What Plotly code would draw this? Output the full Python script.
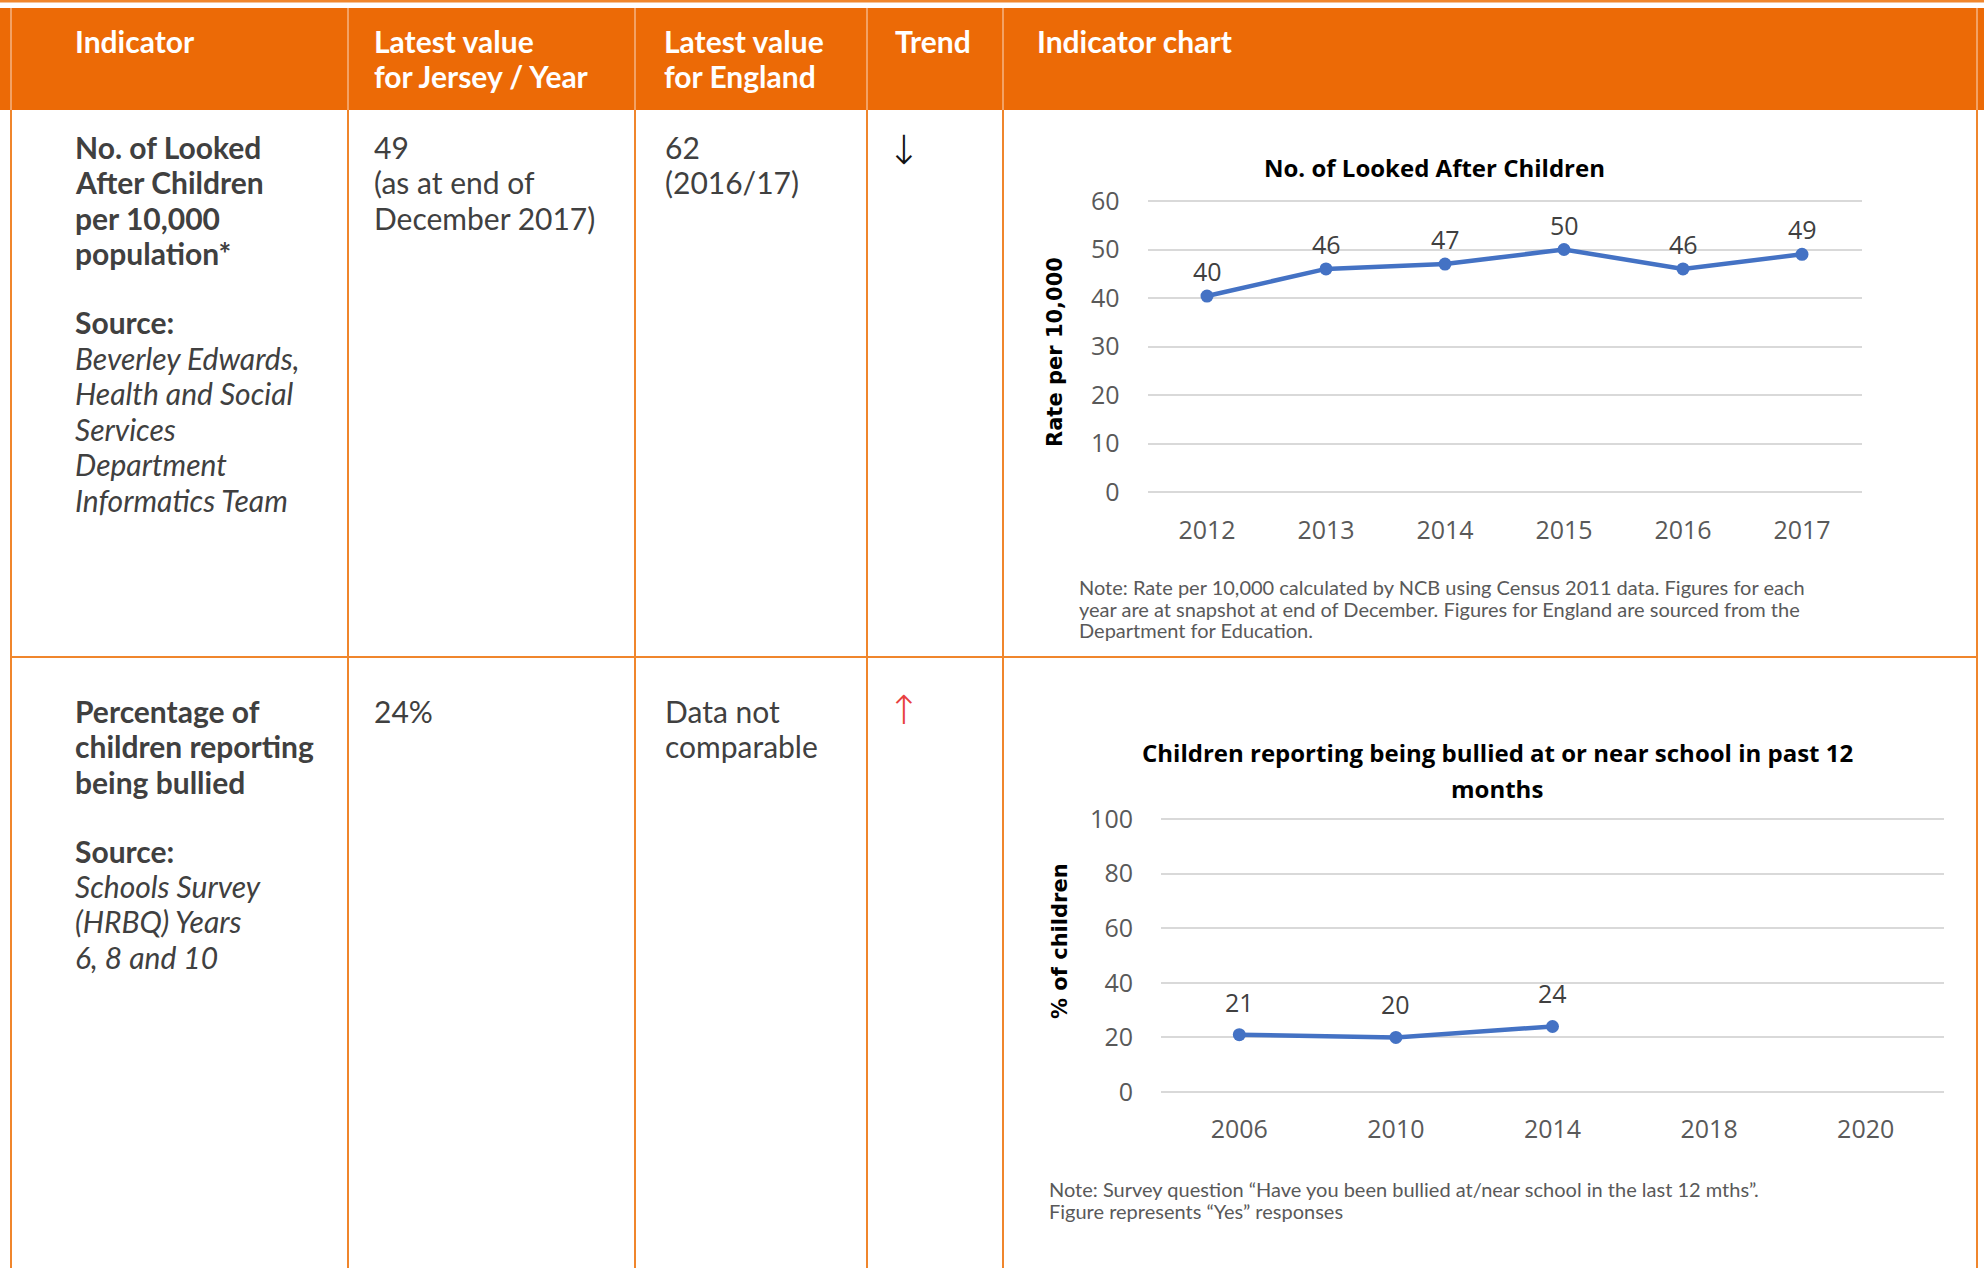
import plotly.graph_objects as go

# ---------------- data ----------------
lac_years = ["2012", "2013", "2014", "2015", "2016", "2017"]
lac_rate = [40.4, 46, 47, 50, 46, 49]
lac_ticks = [0, 10, 20, 30, 40, 50, 60]

bully_years = ["2006", "2010", "2014", "2018", "2020"]
bully_pct = [21, 20, 24, None, None]
bully_ticks = [0, 20, 40, 60, 80, 100]

header_cols = [
    ["Indicator"],
    ["Latest value", "for Jersey / Year"],
    ["Latest value", "for England"],
    ["Trend"],
    ["Indicator chart"],
]
row1_title = ["No. of Looked", "After Children", "per 10,000", "population*"]
row1_source = ["Beverley Edwards,", "Health and Social", "Services", "Department", "Informatics Team"]
row1_jersey = ["49", "(as at end of", "December 2017)"]
row1_england = ["62", "(2016/17)"]
row2_title = ["Percentage of", "children reporting", "being bullied"]
row2_source = ["Schools Survey", "(HRBQ) Years", "6, 8 and 10"]
row2_jersey = ["24%"]
row2_england = ["Data not", "comparable"]

chart1_title = "No. of Looked After Children"
chart1_ytitle = "Rate per 10,000"
chart1_note = ["Note: Rate per 10,000 calculated by NCB using Census 2011 data. Figures for each",
               "year are at snapshot at end of December. Figures for England are sourced from the",
               "Department for Education."]
chart2_title = ["Children reporting being bullied at or near school in past 12", "months"]
chart2_ytitle = "% of children"
chart2_note = ["Note: Survey question \u201cHave you been bullied at/near school in the last 12 mths\u201d.",
               "Figure represents \u201cYes\u201d responses"]

# ---------------- layout helpers ----------------
W, H = 1984, 1268


def px(x):
    return x / W


def py(y):
    return 1 - y / H


ORANGE = "#EC6A06"
LINE_OR = "#F0862C"
PALE = "#F6B584"
BLUE = "#4472C4"
GRID = "#D9D9D9"
TXT = "#404040"
TICK = "#595959"
TFONT = "Lato"
CFONT = "Open Sans"

fig = go.Figure()

fig.add_trace(go.Scatter(
    x=lac_years, y=lac_rate, mode="lines+markers",
    line=dict(color=BLUE, width=4.5), marker=dict(size=13, color=BLUE),
    xaxis="x", yaxis="y", hoverinfo="skip", showlegend=False))
fig.add_trace(go.Scatter(
    x=bully_years, y=bully_pct, mode="lines+markers",
    line=dict(color=BLUE, width=4.5), marker=dict(size=13, color=BLUE),
    xaxis="x2", yaxis="y2", hoverinfo="skip", showlegend=False))

tickfont = dict(family=CFONT, size=25, color=TICK)
common_x = dict(type="category", showgrid=False, zeroline=False, showline=False, automargin=False,
                ticks="", tickfont=tickfont, ticklabelstandoff=17, fixedrange=True)
common_y = dict(showgrid=True, gridcolor=GRID, gridwidth=2, zeroline=False, showline=False,
                automargin=False, ticks="", tickfont=tickfont, ticklabelstandoff=27, fixedrange=True)

# padding so the gridlines at both range ends are drawn
pad1 = 0.8
pad2 = 1.2
s1 = (492 - 201) / 60.0
s2 = (1092 - 819) / 100.0

fig.update_layout(
    width=W, height=H, margin=dict(l=0, r=0, t=0, b=0, pad=0, autoexpand=False),
    paper_bgcolor="white", plot_bgcolor="white", showlegend=False,
    xaxis=dict(common_x, domain=[px(1147.5), px(1861.5)], anchor="y",
               categoryorder="array", categoryarray=lac_years, range=[-0.5, len(lac_years) - 0.5]),
    yaxis=dict(common_y, domain=[py(492 + pad1 * s1), py(201 - pad1 * s1)], anchor="x",
               range=[-pad1, 60 + pad1], tickvals=lac_ticks),
    xaxis2=dict(common_x, domain=[px(1161), px(1944)], anchor="y2",
                categoryorder="array", categoryarray=bully_years, range=[-0.5, len(bully_years) - 0.5]),
    yaxis2=dict(common_y, domain=[py(1092 + pad2 * s2), py(819 - pad2 * s2)], anchor="x2",
                range=[-pad2, 100 + pad2], tickvals=bully_ticks),
)

# ---------------- table shapes ----------------
shapes = []
shapes.append(dict(type="rect", xref="paper", yref="paper", x0=0, x1=1, y0=py(2.5), y1=py(0),
                   fillcolor=LINE_OR, line=dict(width=0), layer="below"))
shapes.append(dict(type="rect", xref="paper", yref="paper", x0=0, x1=1, y0=py(110), y1=py(8),
                   fillcolor=ORANGE, line=dict(width=0), layer="below"))
col_x = [11, 348, 635, 867, 1003, 1977]
for cx in col_x:
    shapes.append(dict(type="line", xref="paper", yref="paper", x0=px(cx), x1=px(cx),
                       y0=py(110), y1=py(8), line=dict(color=PALE, width=1.5)))
    shapes.append(dict(type="line", xref="paper", yref="paper", x0=px(cx), x1=px(cx),
                       y0=py(H), y1=py(110), line=dict(color=LINE_OR, width=2)))
shapes.append(dict(type="line", xref="paper", yref="paper", x0=px(11), x1=px(1977),
                   y0=py(657), y1=py(657), line=dict(color=LINE_OR, width=2)))
fig.update_layout(shapes=shapes)


def txt(x, y, s, size=30, color=TXT, bold=False, italic=False, family=TFONT,
        anchor="left", angle=0, weight=None):
    fig.add_annotation(xref="paper", yref="paper", x=px(x), y=py(y), text=s,
                       showarrow=False, xanchor=anchor, yanchor="middle", textangle=angle,
                       font=dict(family=family, size=size, color=color,
                                 weight=weight if weight else ("bold" if bold else "normal"),
                                 style="italic" if italic else "normal"))


def lines(x, y0, items, pitch=35.4, **kw):
    for i, s in enumerate(items):
        txt(x, y0 + i * pitch, s, **kw)


# header
head_x = [73, 372, 662, 893, 1035]
for hx, items in zip(head_x, header_cols):
    lines(hx, 41, items, color="white", bold=True)

# row 1
lines(73, 147, row1_title, bold=True)
txt(73, 322.5, "Source:", bold=True)
lines(73, 358, row1_source, italic=True)
lines(372, 147, row1_jersey)
lines(663, 147, row1_england)
txt(904, 150, "\u2193", size=40, color="#111111", family="DejaVu Sans", anchor="center", weight=200)

# row 2
lines(73, 711, row2_title, bold=True)
txt(73, 851, "Source:", bold=True)
lines(73, 886, row2_source, italic=True)
lines(372, 711, row2_jersey)
lines(663, 711, row2_england)
txt(904, 710, "\u2191", size=40, color="#E8403F", family="DejaVu Sans", anchor="center", weight=200)

# chart 1 texts
txt(1434, 167, chart1_title, size=24, color="black", bold=True, family=CFONT, anchor="center")
txt(1055, 352, chart1_ytitle, size=21, color="black", bold=True, family="DejaVu Sans",
    anchor="center", angle=-90)
lines(1077, 587, chart1_note, pitch=21.5, size=20, color=TICK)

# chart 2 texts
lines(1497, 752, chart2_title, pitch=36, size=24, color="black", bold=True, family=CFONT, anchor="center")
txt(1060, 941, chart2_ytitle, size=21, color="black", bold=True, family="DejaVu Sans",
    anchor="center", angle=-90)
lines(1047, 1189, chart2_note, pitch=22, size=20, color=TICK)

# data labels (category axes: position by category index)
for i, yv in enumerate(lac_rate):
    fig.add_annotation(xref="x", yref="y", x=i, y=yv, text=f"{yv:.0f}", showarrow=False,
                       yshift=25, font=dict(family=CFONT, size=25, color=TXT))
for i, yv in enumerate(bully_pct):
    if yv is not None:
        fig.add_annotation(xref="x2", yref="y2", x=i, y=yv, text=f"{yv:.0f}", showarrow=False,
                           yshift=33, font=dict(family=CFONT, size=25, color=TXT))

fig.write_html("out.html", config={"displayModeBar": False},
               post_script="document.body.style.margin='0';document.body.style.overflow='hidden';")
